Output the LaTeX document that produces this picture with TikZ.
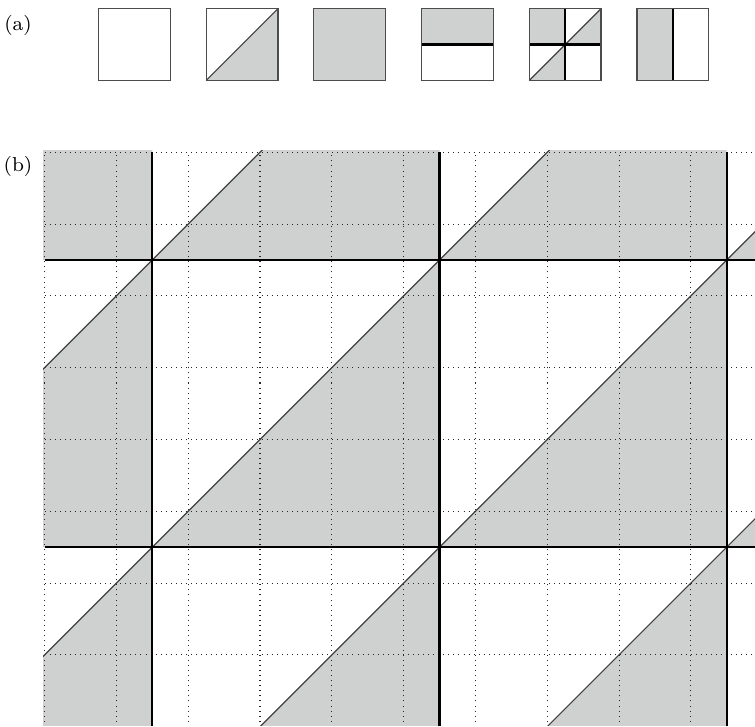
\documentclass[tikz,border=0pt]{standalone}
\definecolor{tilegray}{RGB}{207,209,208}
\newcommand{\TileCorners}[1]{%
\coordinate (NE#1) at ([xshift=1cm, yshift=1cm]#1);%
\coordinate (SE#1) at ([xshift=1cm]#1);%
\coordinate (C#1) at ([xshift=.5cm, yshift=.5cm]#1);%
\coordinate (N#1) at ([xshift=.5cm, yshift=1cm]#1);%
\coordinate (S#1) at ([xshift=.5cm]#1);%
\coordinate (E#1) at ([xshift=1cm, yshift=.5cm]#1);%
\coordinate (W#1) at ([yshift=.5cm]#1);%
}
\newcommand{\TileFrame}[1]{%
\draw[frame] (#1) rectangle (NE#1);%
}
\begin{document}
\begin{tikzpicture}[
frame/.style={draw=black!70, line width=.5pt},
seam/.style={black!75, line width=.45pt},
wall/.style={black, line width=.9pt},
dots/.style={black!85, line width=.4pt, dash pattern=on .4pt off 1.6pt},
shade/.style={fill=tilegray},
]
\useasboundingbox (-0.621,-8) rectangle (9.894,2.121);

%%%%%%%%%%%%%%%%%%%%%%%% LABELS %%%%%%%%%%%%%%%%%%%%%%%%
\node[font=\footnotesize, inner sep=0] (LabelA) at (-0.37,1.77) {(a)};
\node[font=\footnotesize, inner sep=0] (LabelB) at (-0.37,-0.2) {(b)};

%%%%%%%%%%%%%%%%%%%%%%%% TILES %%%%%%%%%%%%%%%%%%%%%%%%
\foreach \k [evaluate=\k as \xk using 0.75+1.5*(\k-1)] in {1,...,6}{
  \coordinate (T\k) at (\xk,1);
  \TileCorners{T\k}
}

% empty tile
\TileFrame{T1}
% half tile, cut along the diagonal
\fill[shade] (T2) -- (SET2) -- (NET2) -- cycle;
\draw[seam] (T2) -- (NET2);
\TileFrame{T2}
% full tile
\fill[shade] (T3) rectangle (NET3);
\TileFrame{T3}
% upper half
\fill[shade] (WT4) rectangle (NET4);
\draw[wall] (WT4) -- (ET4);
\TileFrame{T4}
% crossing
\fill[shade] (WT5) rectangle (NT5);
\fill[shade] (CT5) -- (ET5) -- (NET5) -- cycle;
\fill[shade] (T5) -- (ST5) -- (CT5) -- cycle;
\draw[seam] (T5) -- (NET5);
\draw[wall] (WT5) -- (ET5);
\draw[wall] (ST5) -- (NT5);
\TileFrame{T5}
% left half
\fill[shade] (T6) rectangle (NT6);
\draw[wall] (ST6) -- (NT6);
\TileFrame{T6}

%%%%%%%%%%%%%%%%%%%%%%%% TILING %%%%%%%%%%%%%%%%%%%%%%%%
\begin{scope}
\clip (-0.02,-7.99) rectangle (9.894,0.02);
\foreach \a in {-2.5,1.5,5.5,9.5}
  \foreach \b in {-9.5,-5.5,-1.5}
    \fill[shade] (\a,\b) -- ++(4,0) -- ++(0,4) -- cycle;
\draw[dots] (0,-8) grid (10,0);
\foreach \a in {-2.5,1.5,5.5,9.5}
  \foreach \b in {-9.5,-5.5,-1.5}
    \draw[seam] (\a,\b) -- ++(4,4);
\foreach \x in {1.5,5.5,9.5} \draw[wall] (\x,-8) -- (\x,0);
\foreach \y in {-1.5,-5.5} \draw[wall] (0,\y) -- (10,\y);
\end{scope}
\end{tikzpicture}
\end{document}
